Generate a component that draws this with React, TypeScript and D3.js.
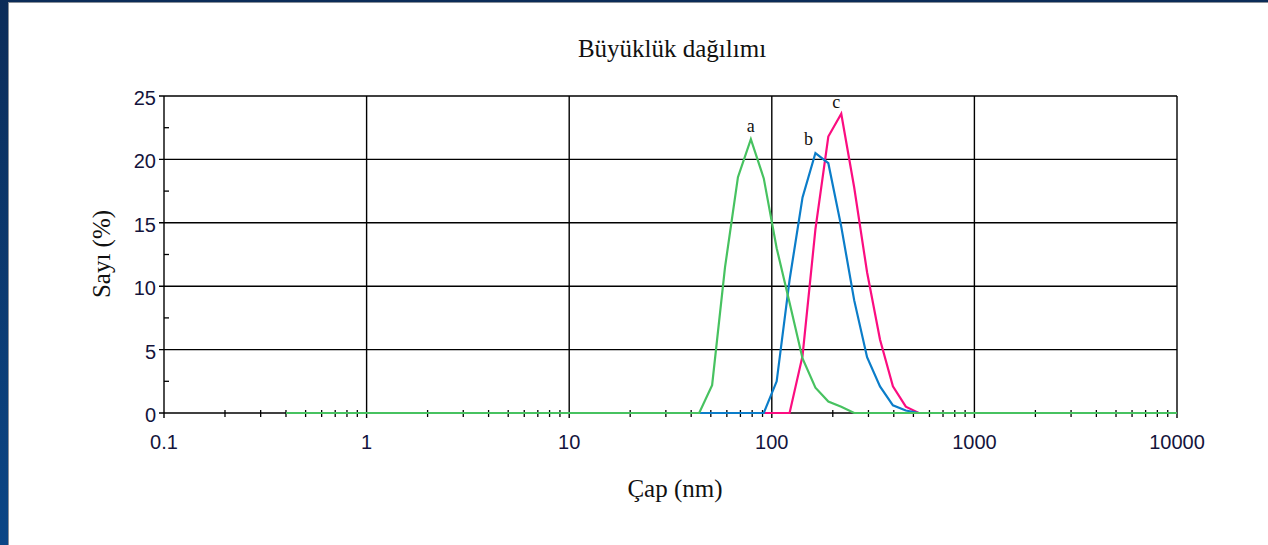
import React from "react";
import * as d3 from "d3";

// Malvern-style size classes (nm)
const sizeBins = [
  0.4, 0.4632, 0.5365, 0.6213, 0.7195, 0.8332, 0.9649, 1.117, 1.294, 1.499,
  1.736, 2.01, 2.328, 2.696, 3.122, 3.615, 4.187, 4.849, 5.615, 6.503,
  7.531, 8.721, 10.1, 11.7, 13.54, 15.69, 18.17, 21.04, 24.36, 28.21,
  32.67, 37.84, 43.82, 50.75, 58.77, 68.06, 78.82, 91.28, 105.7, 122.4,
  141.8, 164.2, 190.1, 220.2, 255.0, 295.3, 342.0, 396.1, 458.7, 531.2,
  615.1, 712.4, 825.0, 955.4, 1106, 1281, 1484, 1718, 1990, 2305,
  2669, 3091, 3580, 4145, 4801, 5560, 6439, 7456, 8635, 10000,
];

// Number (%) per size class
const seriesA = [
  0, 0, 0, 0, 0, 0, 0, 0, 0, 0,
  0, 0, 0, 0, 0, 0, 0, 0, 0, 0,
  0, 0, 0, 0, 0, 0, 0, 0, 0, 0,
  0, 0, 0, 2.2, 11.5, 18.6, 21.6, 18.5, 13.0, 8.7,
  4.3, 2.0, 0.9, 0.5, 0, 0, 0, 0, 0, 0,
  0, 0, 0, 0, 0, 0, 0, 0, 0, 0,
  0, 0, 0, 0, 0, 0, 0, 0, 0, 0,
];
const seriesB = [
  0, 0, 0, 0, 0, 0, 0, 0, 0, 0,
  0, 0, 0, 0, 0, 0, 0, 0, 0, 0,
  0, 0, 0, 0, 0, 0, 0, 0, 0, 0,
  0, 0, 0, 0, 0, 0, 0, 0, 2.5, 10.5,
  17.0, 20.5, 19.7, 14.7, 8.9, 4.4, 2.1, 0.6, 0.2, 0,
  0, 0, 0, 0, 0, 0, 0, 0, 0, 0,
  0, 0, 0, 0, 0, 0, 0, 0, 0, 0,
];
const seriesC = [
  0, 0, 0, 0, 0, 0, 0, 0, 0, 0,
  0, 0, 0, 0, 0, 0, 0, 0, 0, 0,
  0, 0, 0, 0, 0, 0, 0, 0, 0, 0,
  0, 0, 0, 0, 0, 0, 0, 0, 0, 0,
  4.5, 14.5, 21.8, 23.6, 17.8, 11.1, 5.8, 2.1, 0.5, 0,
  0, 0, 0, 0, 0, 0, 0, 0, 0, 0,
  0, 0, 0, 0, 0, 0, 0, 0, 0, 0,
];
const seriesLabels = ["a", "b", "c"];

const xTickValues = [0.1, 1, 10, 100, 1000, 10000];
const xTickLabels = ["0.1", "1", "10", "100", "1000", "10000"];
const yTickValues = [0, 5, 10, 15, 20, 25];
const yTickLabels = ["0", "5", "10", "15", "20", "25"];

const titleText = "Büyüklük dağılımı";
const xTitle = "Çap (nm)";
const yTitle = "Sayı (%)";

export default function App() {
  const W = 1268;
  const H = 545;
  const x = d3.scaleLog().domain([0.1, 10000]).range([164, 1177]);
  const y = d3.scaleLinear().domain([0, 25]).range([413, 96]);

  const line = d3
    .line<number>()
    .x((_, i) => x(sizeBins[i]))
    .y((v) => y(v));

  const minorX: number[] = [];
  xTickValues.slice(0, -1).forEach((d) => {
    for (let m = 2; m <= 9; m++) minorX.push(d * m);
  });
  const minorY = [2.5, 7.5, 12.5, 17.5, 22.5];

  const series = [
    { data: seriesC, color: "#fb0d80", label: seriesLabels[2], dx: -5, dy: -6 },
    { data: seriesB, color: "#0b7dc9", label: seriesLabels[1], dx: -7, dy: -8 },
    { data: seriesA, color: "#47c260", label: seriesLabels[0], dx: 0, dy: -7 },
  ];

  const tickFont = "'Liberation Sans', Arial, sans-serif";
  const serif = "'Liberation Serif', 'Times New Roman', serif";
  const tickColor = "#14143c";

  return (
    <>
      <style>{"body{margin:0}"}</style>
      <svg width={W} height={H} style={{ display: "block" }}>
        <defs>
          <linearGradient id="bg" x1="0" y1="0" x2="0" y2="1">
            <stop offset="0" stopColor="#0c2c58" />
            <stop offset="1" stopColor="#0b4686" />
          </linearGradient>
        </defs>
        <rect x={0} y={0} width={W} height={H} fill="url(#bg)" />
        <rect x={8} y={2} width={W - 8} height={H - 2} fill="#8a9099" />
        <rect x={9} y={3} width={W - 9} height={H - 3} fill="#ffffff" />

        {/* title */}
        <text x={672} y={57} textAnchor="middle" fontFamily={serif} fontSize={25} fill="#111">
          {titleText}
        </text>

        {/* horizontal grid */}
        {yTickValues.map((v) => (
          <line key={"gy" + v} x1={159} x2={1177} y1={y(v)} y2={y(v)} stroke="#000" strokeWidth={1.4} />
        ))}
        {/* vertical grid */}
        {xTickValues.map((v) => (
          <line key={"gx" + v} x1={x(v)} x2={x(v)} y1={96} y2={418} stroke="#000" strokeWidth={1.4} />
        ))}
        {/* minor ticks */}
        {minorX.map((v) => (
          <line key={"mx" + v} x1={x(v)} x2={x(v)} y1={410} y2={417} stroke="#000" strokeWidth={1.3} />
        ))}
        {minorY.map((v) => (
          <line key={"my" + v} x1={164} x2={169} y1={y(v)} y2={y(v)} stroke="#000" strokeWidth={1.3} />
        ))}

        {/* series */}
        {series.map((s) => (
          <path
            key={s.label}
            d={line(s.data) || ""}
            fill="none"
            stroke={s.color}
            strokeWidth={2.2}
            strokeLinejoin="miter"
          />
        ))}
        {series.map((s) => {
          const i = d3.maxIndex(s.data);
          return (
            <text
              key={"l" + s.label}
              x={x(sizeBins[i]) + s.dx}
              y={y(s.data[i]) + s.dy}
              textAnchor="middle"
              fontFamily={serif}
              fontSize={18}
              fill="#111"
            >
              {s.label}
            </text>
          );
        })}

        {/* tick labels */}
        {yTickValues.map((v, i) => (
          <text key={"ty" + v} x={156} y={y(v) + 9} textAnchor="end" fontFamily={tickFont} fontSize={20} fill={tickColor}>
            {yTickLabels[i]}
          </text>
        ))}
        {xTickValues.map((v, i) => (
          <text key={"tx" + v} x={x(v)} y={449} textAnchor="middle" fontFamily={tickFont} fontSize={20} fill={tickColor}>
            {xTickLabels[i]}
          </text>
        ))}

        {/* axis titles */}
        <text x={675} y={497} textAnchor="middle" fontFamily={serif} fontSize={25} fill="#111">
          {xTitle}
        </text>
        <text
          transform="translate(110,254) rotate(-90)"
          textAnchor="middle"
          fontFamily={serif}
          fontSize={25}
          fill="#111"
        >
          {yTitle}
        </text>
      </svg>
    </>
  );
}
